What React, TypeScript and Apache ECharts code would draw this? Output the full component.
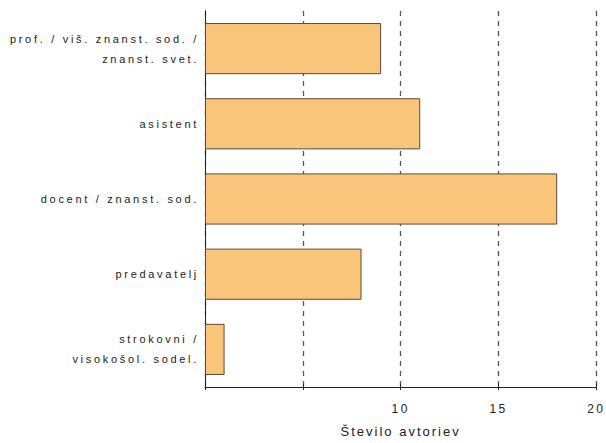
import React, { useEffect, useRef } from "react";
import * as echarts from "echarts";

const categories = [
  "prof. / viš. znanst. sod. /\nznanst. svet.",
  "asistent",
  "docent / znanst. sod.",
  "predavatelj",
  "strokovni /\nvisokošol. sodel.",
];
const values = [9, 11, 18, 8, 1];
const axisName = "Število avtoriev";
const xMin = 0;
const xMax = 20;
const xStep = 5;
const shownTicks = [10, 15, 20];

const FONT = "'Liberation Sans', Arial, sans-serif";

export default function App() {
  const ref = useRef<HTMLDivElement>(null);
  useEffect(() => {
    if (!ref.current) return;
    const chart = echarts.init(ref.current, undefined, { renderer: "svg" });
    chart.setOption({
      animation: false,
      backgroundColor: "#ffffff",
      grid: { left: 205, right: 8, top: 11, bottom: 54, containLabel: false },
      xAxis: [
        {
          type: "value",
          min: xMin,
          max: xMax,
          interval: xStep,
          position: "bottom",
          name: axisName,
          nameLocation: "middle",
          nameGap: 38,
          nameTextStyle: { fontSize: 13, color: "#222", fontFamily: FONT },
          axisLine: { show: true, lineStyle: { color: "#222", width: 1 } },
          axisTick: { show: true, length: 3, lineStyle: { color: "#222" } },
          axisLabel: {
            margin: 16,
            fontSize: 12,
            color: "#222",
            fontFamily: FONT,
            formatter: (v: number) => (shownTicks.includes(v) ? String(v) : ""),
          },
          splitLine: {
            show: true,
            lineStyle: { color: "#555", type: [5, 5], width: 1.3 },
          },
        },
        {
          type: "value",
          min: xMin,
          max: xMax,
          interval: xStep,
          position: "bottom",
          axisLine: { show: false },
          axisTick: { show: true, inside: true, length: 3, lineStyle: { color: "#222" } },
          axisLabel: { show: false },
          splitLine: { show: false },
        },
      ],
      yAxis: [
        {
          type: "category",
          inverse: true,
          data: categories,
          axisLine: { show: true, lineStyle: { color: "#222", width: 1 } },
          axisTick: { show: false },
          axisLabel: {
            margin: 6,
            fontSize: 11,
            lineHeight: 20,
            color: "#222",
            fontFamily: FONT,
            align: "right",
          },
          splitLine: { show: false },
        },
        {
          type: "category",
          inverse: true,
          position: "right",
          data: categories,
          axisLine: { show: true, lineStyle: { color: "#222", width: 1 } },
          axisTick: { show: false },
          axisLabel: { show: false },
          splitLine: { show: false },
        },
      ],
      series: [
        {
          type: "bar",
          xAxisIndex: 0,
          yAxisIndex: 0,
          data: values,
          barCategoryGap: "32%",
          itemStyle: {
            color: "#F8C57A",
            borderColor: "#5C4A36",
            borderWidth: 1,
          },
        },
      ],
    });
    return () => chart.dispose();
  }, []);
  return (
    <>
      <style>{`
        #chart text { letter-spacing: 2.2px; }
        #chart text[style*="11px"] { letter-spacing: 2.7px; }
        #chart text[style*="12px"] { letter-spacing: 2.4px; }
        #chart text[style*="13px"] { letter-spacing: 2px; }
      `}</style>
      <div
        id="chart"
        ref={ref}
        style={{ position: "fixed", left: 0, top: 0, width: 606, height: 443 }}
      />
    </>
  );
}
